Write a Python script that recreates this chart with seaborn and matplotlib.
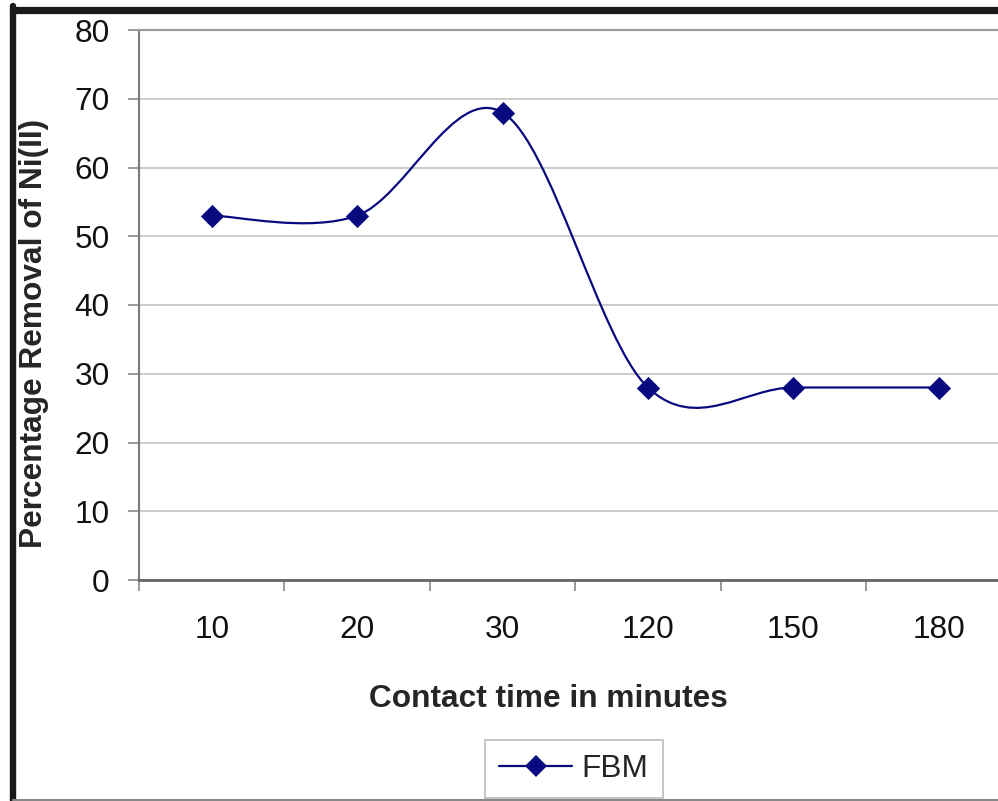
import numpy as np
import pandas as pd
import seaborn as sns
import matplotlib
matplotlib.use("Agg")
from matplotlib import pyplot as plt
from matplotlib.path import Path
from matplotlib.patches import PathPatch
from matplotlib.lines import Line2D

# Data
contact_time = ["10", "20", "30", "120", "150", "180"]
removal_fbm = [53, 53, 68, 28, 28, 28]
y_ticks = [0, 10, 20, 30, 40, 50, 60, 70, 80]

line_color = "#0a0a80"
fs = 22.8

sns.set_style("white")
plt.rcParams["font.family"] = ["Liberation Sans", "DejaVu Sans"]

fig = plt.figure(figsize=(9.98, 8.01), dpi=100)
ax = fig.add_axes([139 / 998, 1 - 580 / 801, 872.4 / 998, 550 / 801])

df = pd.DataFrame({"time": contact_time, "removal": removal_fbm})

# smoothed line (Excel style bezier through the points)
xs = np.arange(len(removal_fbm), dtype=float)
ys = np.array(removal_fbm, dtype=float)
pts = np.column_stack([xs, ys])
verts = [tuple(pts[0])]
codes = [Path.MOVETO]
n = len(pts)
for i in range(n - 1):
    p_prev = pts[max(i - 1, 0)]
    p0 = pts[i]
    p1 = pts[i + 1]
    p_next = pts[min(i + 2, n - 1)]
    c1 = p0 + (p1 - p_prev) / 6.0
    c2 = p1 - (p_next - p0) / 6.0
    verts += [tuple(c1), tuple(c2), tuple(p1)]
    codes += [Path.CURVE4, Path.CURVE4, Path.CURVE4]
curve = PathPatch(Path(verts, codes), facecolor="none", edgecolor=line_color,
                  lw=1.6, zorder=3)
ax.add_patch(curve)

sns.scatterplot(data=df, x="time", y="removal", marker="D", s=140,
                color=line_color, edgecolor=line_color, linewidth=0,
                zorder=4, ax=ax, legend=False)

ax.set_xlim(-0.5, len(contact_time) - 0.5)
ax.set_ylim(0, 80)
ax.set_yticks(y_ticks)
ax.set_xticks(range(len(contact_time)))
ax.set_xticklabels(contact_time)
ax.set_xticks(np.arange(-0.5, len(contact_time), 1.0), minor=True)

ax.yaxis.grid(True, color="#c8c8c8", lw=1.3)
ax.set_axisbelow(True)

for side in ["left", "top", "bottom"]:
    ax.spines[side].set_visible(True)
ax.spines["right"].set_visible(False)
ax.spines["left"].set_color("#7a7a7a")
ax.spines["left"].set_linewidth(1.5)
ax.spines["top"].set_color("#9a9a9a")
ax.spines["top"].set_linewidth(1.5)
ax.spines["bottom"].set_color("#666666")
ax.spines["bottom"].set_linewidth(2.0)

ax.tick_params(axis="y", which="major", direction="out", length=8, width=1.2,
               color="#8a8a8a", pad=13, labelsize=fs, labelcolor="#111111", left=True)
ax.tick_params(axis="x", which="major", length=0, pad=25, labelsize=fs,
               labelcolor="#111111")
ax.tick_params(axis="x", which="minor", direction="out", length=8, width=1.2,
               color="#8a8a8a", bottom=True)

ax.set_xlabel("Contact time in minutes", fontsize=fs, fontweight="bold")
ax.set_ylabel("Percentage Removal of Ni(II)", fontsize=fs, fontweight="bold")
ax.xaxis.set_label_coords((548 - 139) / 872.4, (580 - 699) / 550)
ax.xaxis.label.set_verticalalignment("center")
ax.yaxis.set_label_coords((34 - 139) / 872.4, (580 - 333) / 550)
ax.yaxis.label.set_verticalalignment("center")

handle = Line2D([], [], color=line_color, lw=1.6, marker="D", markersize=11,
                markeredgewidth=0)
leg = fig.legend([handle], ["FBM"], loc="center",
                 bbox_to_anchor=(574 / 998, 1 - 769 / 801), fontsize=fs,
                 frameon=True, fancybox=False, handlelength=2.3,
                 borderpad=0.45, handletextpad=0.3)
leg.get_frame().set_edgecolor("#aaaaaa")
leg.get_frame().set_linewidth(1.2)

# outer black frame of the original picture
fig.add_artist(Line2D([13 / 998, 1.0], [1 - 9.5 / 801, 1 - 9.5 / 801],
                      transform=fig.transFigure, color="#1a1a1a", lw=5.2))
fig.add_artist(Line2D([13 / 998, 13 / 998], [0, 1 - 6 / 801],
                      transform=fig.transFigure, color="#1a1a1a", lw=4.6))
fig.add_artist(Line2D([13 / 998, 1.0], [1 / 801, 1 / 801],
                      transform=fig.transFigure, color="#888888", lw=1.5))

fig.savefig("out.png", dpi=100)
